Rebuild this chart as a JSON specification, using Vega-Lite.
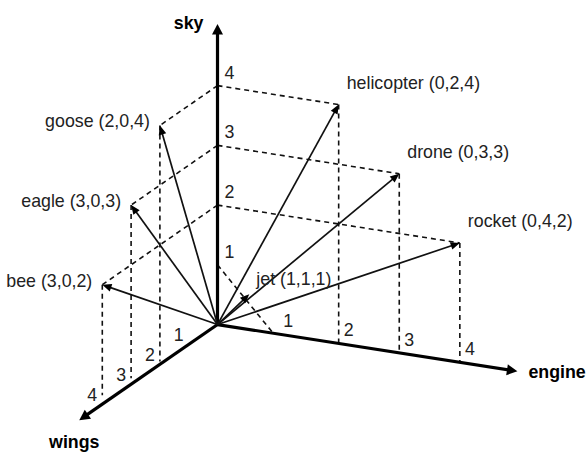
{
  "$schema": "https://vega.github.io/schema/vega-lite/v6.json",
  "width": 586,
  "height": 452,
  "padding": 0,
  "autosize": {"type": "fit", "contains": "padding"},
  "background": "white",
  "config": {"view": {"stroke": null}, "text": {"font": "Liberation Sans", "fontSize": 17.8, "color": "#222"}},
  "datasets": {
    "axes": [
      {"axis": "sky", "wings": 0, "engine": 0, "sky": 5.03},
      {"axis": "engine", "wings": 0, "engine": 4.95, "sky": 0},
      {"axis": "wings", "wings": 4.8, "engine": 0, "sky": 0}
    ],
    "vectors": [
      {"name": "bee", "label": "bee (3,0,2)", "wings": 4, "engine": 0, "sky": 2},
      {"name": "eagle", "label": "eagle (3,0,3)", "wings": 3, "engine": 0, "sky": 3},
      {"name": "goose", "label": "goose (2,0,4)", "wings": 2, "engine": 0, "sky": 4},
      {"name": "helicopter", "label": "helicopter (0,2,4)", "wings": 0, "engine": 2, "sky": 4},
      {"name": "drone", "label": "drone (0,3,3)", "wings": 0, "engine": 3, "sky": 3},
      {"name": "rocket", "label": "rocket (0,4,2)", "wings": 0, "engine": 4, "sky": 2},
      {"name": "jet", "label": "jet (1,1,1)", "wings": 1, "engine": 1, "sky": 1}
    ],
    "dashes": [
      {"w1": 0, "e1": 0, "s1": 2, "w2": 4, "e2": 0, "s2": 2},
      {"w1": 4, "e1": 0, "s1": 2, "w2": 4, "e2": 0, "s2": 0.15},
      {"w1": 0, "e1": 0, "s1": 3, "w2": 3, "e2": 0, "s2": 3},
      {"w1": 3, "e1": 0, "s1": 3, "w2": 3, "e2": 0, "s2": 0.1},
      {"w1": 0, "e1": 0, "s1": 4, "w2": 2, "e2": 0, "s2": 4},
      {"w1": 2, "e1": 0, "s1": 4, "w2": 2, "e2": 0, "s2": 0.05},
      {"w1": 0, "e1": 0, "s1": 4, "w2": 0, "e2": 2, "s2": 4},
      {"w1": 0, "e1": 2, "s1": 4, "w2": 0, "e2": 2, "s2": 0},
      {"w1": 0, "e1": 0, "s1": 3, "w2": 0, "e2": 3, "s2": 3},
      {"w1": 0, "e1": 3, "s1": 3, "w2": 0, "e2": 3, "s2": 0},
      {"w1": 0, "e1": 0, "s1": 2, "w2": 0, "e2": 4, "s2": 2},
      {"w1": 0, "e1": 4, "s1": 2, "w2": 0, "e2": 4, "s2": 0},
      {"w1": 0, "e1": 0, "s1": 1, "w2": 0, "e2": 0.92, "s2": 0}
    ],
    "ticks": [
      {"axis": "sky", "value": 1, "wings": 0, "engine": 0, "sky": 1},
      {"axis": "sky", "value": 2, "wings": 0, "engine": 0, "sky": 2},
      {"axis": "sky", "value": 3, "wings": 0, "engine": 0, "sky": 3},
      {"axis": "sky", "value": 4, "wings": 0, "engine": 0, "sky": 4},
      {"axis": "engine", "value": 1, "wings": 0, "engine": 1, "sky": 0},
      {"axis": "engine", "value": 2, "wings": 0, "engine": 2, "sky": 0},
      {"axis": "engine", "value": 3, "wings": 0, "engine": 3, "sky": 0},
      {"axis": "engine", "value": 4, "wings": 0, "engine": 4, "sky": 0},
      {"axis": "wings", "value": 1, "wings": 1, "engine": 0, "sky": 0},
      {"axis": "wings", "value": 2, "wings": 2, "engine": 0, "sky": 0},
      {"axis": "wings", "value": 3, "wings": 3, "engine": 0, "sky": 0},
      {"axis": "wings", "value": 4, "wings": 4, "engine": 0, "sky": 0}
    ]
  },
  "layer": [
    {
      "data": {"name": "dashes"},
      "transform": [
        {"calculate": "61*datum.e1 - 29*datum.w1", "as": "px1"},
        {"calculate": "60*datum.s1 - 20*datum.w1 - 9.5*datum.e1", "as": "py1"},
        {"calculate": "61*datum.e2 - 29*datum.w2", "as": "px2"},
        {"calculate": "60*datum.s2 - 20*datum.w2 - 9.5*datum.e2", "as": "py2"}
      ],
      "mark": {"type": "rule", "color": "#111", "strokeWidth": 1.6, "strokeDash": [5, 4]},
      "encoding": {
        "x": {"field": "px1", "type": "quantitative", "scale": {"domain": [-219, 367], "nice": false, "zero": false}, "axis": null},
        "y": {"field": "py1", "type": "quantitative", "scale": {"domain": [-126, 326], "nice": false, "zero": false}, "axis": null},
        "x2": {"field": "px2"},
        "y2": {"field": "py2"}
      }
    },
    {
      "data": {"name": "axes"},
      "transform": [
        {"calculate": "61*datum.engine - 29*datum.wings", "as": "px"},
        {"calculate": "60*datum.sky - 20*datum.wings - 9.5*datum.engine", "as": "py"},
        {"calculate": "sqrt(datum.px*datum.px + datum.py*datum.py)", "as": "len"},
        {"calculate": "datum.px*(1 - 7/datum.len)", "as": "lx"},
        {"calculate": "datum.py*(1 - 7/datum.len)", "as": "ly"},
        {"calculate": "0", "as": "zero"}
      ],
      "mark": {"type": "rule", "color": "black", "strokeWidth": 3.2},
      "encoding": {
        "x": {"field": "zero", "type": "quantitative"},
        "y": {"field": "zero", "type": "quantitative"},
        "x2": {"field": "lx"},
        "y2": {"field": "ly"}
      }
    },
    {
      "data": {"name": "axes"},
      "transform": [
        {"calculate": "61*datum.engine - 29*datum.wings", "as": "px"},
        {"calculate": "60*datum.sky - 20*datum.wings - 9.5*datum.engine", "as": "py"},
        {"calculate": "atan2(datum.px, datum.py)*180/PI", "as": "ang"}
      ],
      "mark": {"type": "point", "shape": "M0,0 L-0.55,1.05 L0.55,1.05 Z", "size": 400, "filled": true, "color": "black", "opacity": 1, "strokeWidth": 0},
      "encoding": {
        "x": {"field": "px", "type": "quantitative"},
        "y": {"field": "py", "type": "quantitative"},
        "angle": {"field": "ang", "type": "quantitative", "scale": null}
      }
    },
    {
      "data": {"name": "vectors"},
      "transform": [
        {"calculate": "61*datum.engine - 29*datum.wings", "as": "px"},
        {"calculate": "60*datum.sky - 20*datum.wings - 9.5*datum.engine", "as": "py"},
        {"calculate": "sqrt(datum.px*datum.px + datum.py*datum.py)", "as": "len"},
        {"calculate": "datum.px*(1 - 5/datum.len)", "as": "lx"},
        {"calculate": "datum.py*(1 - 5/datum.len)", "as": "ly"},
        {"calculate": "0", "as": "zero"}
      ],
      "mark": {"type": "rule", "color": "#111", "strokeWidth": 1.7},
      "encoding": {
        "x": {"field": "zero", "type": "quantitative"},
        "y": {"field": "zero", "type": "quantitative"},
        "x2": {"field": "lx"},
        "y2": {"field": "ly"}
      }
    },
    {
      "data": {"name": "vectors"},
      "transform": [
        {"calculate": "61*datum.engine - 29*datum.wings", "as": "px"},
        {"calculate": "60*datum.sky - 20*datum.wings - 9.5*datum.engine", "as": "py"},
        {"calculate": "atan2(datum.px, datum.py)*180/PI", "as": "ang"}
      ],
      "mark": {"type": "point", "shape": "M0,0 L-0.42,1 L0.42,1 Z", "size": 340, "filled": true, "color": "black", "opacity": 1, "strokeWidth": 0},
      "encoding": {
        "x": {"field": "px", "type": "quantitative"},
        "y": {"field": "py", "type": "quantitative"},
        "angle": {"field": "ang", "type": "quantitative", "scale": null}
      }
    },
    {
      "data": {"name": "vectors"},
      "transform": [
        {"filter": "datum.engine == 0"},
        {"calculate": "61*datum.engine - 29*datum.wings", "as": "px"},
        {"calculate": "60*datum.sky - 20*datum.wings - 9.5*datum.engine", "as": "py"}
      ],
      "mark": {"type": "text", "align": "right", "baseline": "middle", "dx": -10, "dy": -3},
      "encoding": {
        "x": {"field": "px", "type": "quantitative"},
        "y": {"field": "py", "type": "quantitative"},
        "text": {"field": "label"}
      }
    },
    {
      "data": {"name": "vectors"},
      "transform": [
        {"filter": "datum.wings == 0"},
        {"calculate": "61*datum.engine - 29*datum.wings", "as": "px"},
        {"calculate": "60*datum.sky - 20*datum.wings - 9.5*datum.engine", "as": "py"}
      ],
      "mark": {"type": "text", "align": "left", "baseline": "middle", "dx": 8, "dy": -21},
      "encoding": {
        "x": {"field": "px", "type": "quantitative"},
        "y": {"field": "py", "type": "quantitative"},
        "text": {"field": "label"}
      }
    },
    {
      "data": {"name": "vectors"},
      "transform": [
        {"filter": "datum.wings > 0 && datum.engine > 0"},
        {"calculate": "61*datum.engine - 29*datum.wings", "as": "px"},
        {"calculate": "60*datum.sky - 20*datum.wings - 9.5*datum.engine", "as": "py"}
      ],
      "mark": {"type": "text", "align": "left", "baseline": "middle", "dx": 7, "dy": -14},
      "encoding": {
        "x": {"field": "px", "type": "quantitative"},
        "y": {"field": "py", "type": "quantitative"},
        "text": {"field": "label"}
      }
    },
    {
      "data": {"name": "ticks"},
      "transform": [
        {"filter": "datum.axis == 'sky'"},
        {"calculate": "61*datum.engine - 29*datum.wings", "as": "px"},
        {"calculate": "60*datum.sky - 20*datum.wings - 9.5*datum.engine", "as": "py"}
      ],
      "mark": {"type": "text", "align": "center", "baseline": "middle", "dx": 12, "dy": -12},
      "encoding": {
        "x": {"field": "px", "type": "quantitative"},
        "y": {"field": "py", "type": "quantitative"},
        "text": {"field": "value"}
      }
    },
    {
      "data": {"name": "ticks"},
      "transform": [
        {"filter": "datum.axis == 'engine'"},
        {"calculate": "61*datum.engine - 29*datum.wings", "as": "px"},
        {"calculate": "60*datum.sky - 20*datum.wings - 9.5*datum.engine", "as": "py"}
      ],
      "mark": {"type": "text", "align": "center", "baseline": "middle", "dx": 10, "dy": -12},
      "encoding": {
        "x": {"field": "px", "type": "quantitative"},
        "y": {"field": "py", "type": "quantitative"},
        "text": {"field": "value"}
      }
    },
    {
      "data": {"name": "ticks"},
      "transform": [
        {"filter": "datum.axis == 'wings'"},
        {"calculate": "61*datum.engine - 29*datum.wings", "as": "px"},
        {"calculate": "60*datum.sky - 20*datum.wings - 9.5*datum.engine", "as": "py"}
      ],
      "mark": {"type": "text", "align": "center", "baseline": "middle", "dx": -10, "dy": -8},
      "encoding": {
        "x": {"field": "px", "type": "quantitative"},
        "y": {"field": "py", "type": "quantitative"},
        "text": {"field": "value"}
      }
    },
    {
      "data": {"name": "axes"},
      "transform": [
        {"filter": "datum.axis == 'sky'"},
        {"calculate": "61*datum.engine - 29*datum.wings", "as": "px"},
        {"calculate": "60*datum.sky - 20*datum.wings - 9.5*datum.engine", "as": "py"}
      ],
      "mark": {"type": "text", "align": "right", "baseline": "middle", "dx": -14, "dy": 0, "fontWeight": "bold", "color": "black"},
      "encoding": {
        "x": {"field": "px", "type": "quantitative"},
        "y": {"field": "py", "type": "quantitative"},
        "text": {"field": "axis"}
      }
    },
    {
      "data": {"name": "axes"},
      "transform": [
        {"filter": "datum.axis == 'engine'"},
        {"calculate": "61*datum.engine - 29*datum.wings", "as": "px"},
        {"calculate": "60*datum.sky - 20*datum.wings - 9.5*datum.engine", "as": "py"}
      ],
      "mark": {"type": "text", "align": "left", "baseline": "middle", "dx": 11, "dy": 2, "fontWeight": "bold", "color": "black"},
      "encoding": {
        "x": {"field": "px", "type": "quantitative"},
        "y": {"field": "py", "type": "quantitative"},
        "text": {"field": "axis"}
      }
    },
    {
      "data": {"name": "axes"},
      "transform": [
        {"filter": "datum.axis == 'wings'"},
        {"calculate": "61*datum.engine - 29*datum.wings", "as": "px"},
        {"calculate": "60*datum.sky - 20*datum.wings - 9.5*datum.engine", "as": "py"}
      ],
      "mark": {"type": "text", "align": "center", "baseline": "middle", "dx": -5, "dy": 23, "fontWeight": "bold", "color": "black"},
      "encoding": {
        "x": {"field": "px", "type": "quantitative"},
        "y": {"field": "py", "type": "quantitative"},
        "text": {"field": "axis"}
      }
    }
  ]
}
